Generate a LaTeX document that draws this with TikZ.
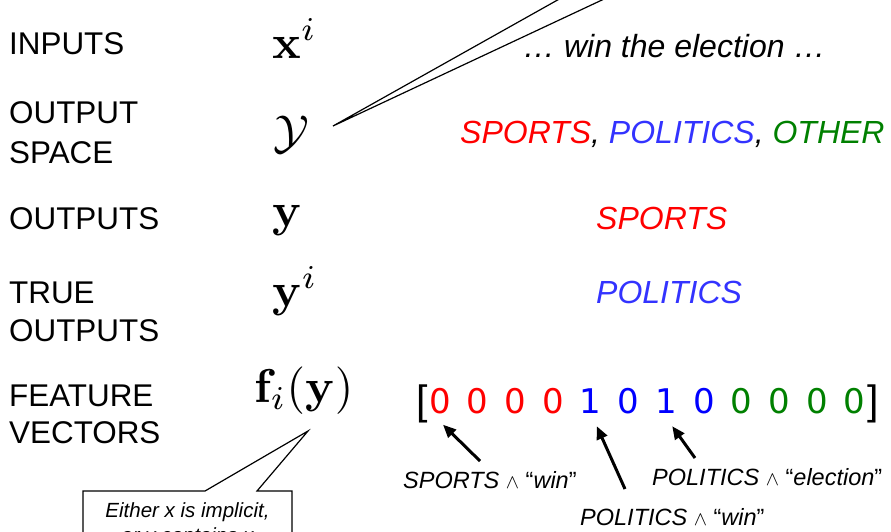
\documentclass[tikz,border=0pt]{standalone}
\usepackage[no-math]{fontspec}
\usepackage{graphicx}
\setmainfont{Liberation Sans}
\newfontfamily\digfam{DejaVu Sans}
\usetikzlibrary{arrows.meta,calc}
\definecolor{cred}{RGB}{255,0,0}
\definecolor{cblue}{RGB}{51,51,255}
\definecolor{vblue}{RGB}{0,0,255}
\definecolor{cgreen}{RGB}{0,128,0}
\newcommand{\andsym}{\ \scalebox{0.8}{$\wedge$}\ }
\newcommand{\mathbig}[1]{\scalebox{4.75}{#1}}
\begin{document}
\begin{tikzpicture}[x=1pt,y=-1pt,
  lab/.style={anchor=base west,inner sep=0pt,font=\fontsize{31.4}{37}\selectfont},
  rlab/.style={anchor=base west,inner sep=0pt,font=\fontsize{32}{38}\selectfont\itshape},
  mth/.style={anchor=base west,inner sep=0pt},
  dig/.style={anchor=base,inner sep=0pt,font=\digfam\fontsize{34}{40}\selectfont},
  brk/.style={inner sep=0pt,font=\fontsize{41}{46}\selectfont},
  ann/.style={anchor=base west,inner sep=0pt,font=\fontsize{23.5}{27}\selectfont},
  note/.style={anchor=base,inner sep=0pt,font=\fontsize{20.5}{25}\selectfont\itshape},
  arr/.style={line width=3pt,-{Triangle[length=13pt,width=11pt]}},
  callout/.style={line width=1.2pt,line join=miter}]
\useasboundingbox (0,0) rectangle (891,531);
% left labels
\node[lab] (inputs) at (9,54) {INPUTS};
\node[lab] (outsp1) at (9,123) {OUTPUT};
\node[lab] (outsp2) at (9,163) {SPACE};
\node[lab] (outputs) at (9,229) {OUTPUTS};
\node[lab] (true1) at (9,303) {TRUE};
\node[lab] (true2) at (9,341) {OUTPUTS};
\node[lab] (feat1) at (9,406) {FEATURE};
\node[lab] (feat2) at (9,443) {VECTORS};
% math column
\node[mth] (mx) at (272,58) {\mathbig{$\mathbf{x}^i$}};
\node[mth] (mY) at (273,148) {\mathbig{$\mathcal{Y}$}};
\node[mth] (my) at (272,226) {\mathbig{$\mathbf{y}$}};
\node[mth] (myi) at (272,306) {\mathbig{$\mathbf{y}^i$}};
\node[mth] (mf) at (254,402) {\mathbig{$\mathbf{f}_i(\mathbf{y})$}};
% right column
\node[rlab] (ex) at (523,57) {\ldots{} win the election \ldots};
\node[rlab] (space) at (460,143) {\textcolor{cred}{SPORTS}, \textcolor{cblue}{POLITICS}, \textcolor{cgreen}{OTHER}};
\node[rlab,text=cred] (sp) at (596,229) {SPORTS};
\node[rlab,text=cblue] (pol) at (596,303) {POLITICS};
% vector
\foreach \k/\d/\c in {1/0/cred,2/0/cred,3/0/cred,4/0/cred,5/1/vblue,6/0/vblue,7/1/vblue,8/0/vblue,9/0/cgreen,10/0/cgreen,11/0/cgreen,12/0/cgreen}
  \node[dig,text=\c] (d\k) at ({440+37.7*(\k-1)},413) {\d};
\node[brk,anchor=base west] (lb) at (416,414) {[};
\node[brk,anchor=base east] (rb) at (879,414) {]};
% annotations
\node[ann] (a1) at (403,488) {\textit{SPORTS}\andsym“\textit{win}”};
\node[ann] (a3) at (652,485) {\textit{POLITICS}\andsym“\textit{election}”};
\node[ann] (a2) at (580,525) {\textit{POLITICS}\andsym“\textit{win}”};
\coordinate (a1s) at (480,461);
\coordinate (a2s) at (625,489);
\coordinate (a3s) at (695,458);
\coordinate (t1) at ($(d1.south)+(3,11)$);
\coordinate (t2) at ($(d5.south)+(6,13)$);
\coordinate (t3) at ($(d7.south)+(6,13)$);
\draw[arr] (a1s) -- (t1);
\draw[arr] (a2s) -- (t2);
\draw[arr] (a3s) -- (t3);
% top callout pointer
\coordinate (ytip) at (333,126);
\coordinate (yc1) at (611,-30);
\coordinate (yc2) at (666,-30);
\draw[callout] (yc1) -- (ytip) -- (yc2);
% bottom callout
\coordinate (ftip) at (308,431);
\draw[callout,fill=white] (83,580) -- (83,491) -- (205,491) -- (ftip) -- (257,491) -- (292,491) -- (292,580);
\node[note] (c1) at (187.5,517) {Either x is implicit,};
\node[note] (c2) at (187.5,542) {or y contains x};
\end{tikzpicture}
\end{document}
